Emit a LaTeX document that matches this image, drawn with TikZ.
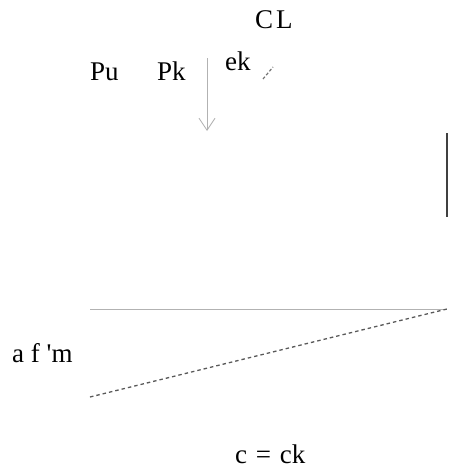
\documentclass[tikz,border=0pt]{standalone}
\usepackage{fontspec}
\setmainfont{Liberation Serif}
\usetikzlibrary{arrows.meta}
\tikzset{
  lbl/.style={anchor=base west, inner sep=0pt, font=\fontsize{27}{30}\selectfont, text=black},
  faint/.style={draw=black!30, line width=0.9pt},
  dotline/.style={draw=black!65, line width=1.3pt, dash pattern=on 3.5pt off 3pt},
  thick bar/.style={draw=black!75, line width=2.8pt},
}
\begin{document}
\begin{tikzpicture}[x=1pt,y=-1pt]
\useasboundingbox (0,0) rectangle (453,471);
% texts
\node[lbl] (cl) at (255,28) {C\kern3pt L};
\node[lbl] (pu) at (90,80) {Pu};
\node[lbl] (pk) at (157,80) {Pk};
\node[lbl] (ek) at (225,70) {ek};
\node[lbl] (afm) at (12,362) {a f \textquotesingle m};
\node[lbl] (cek) at (235,463) {c\kern2pt{} =\kern2pt{} ck};
% coordinates
\coordinate (arrTop) at (207,58);
\coordinate (arrBot) at (207,131);
\coordinate (slA) at (263,79);
\coordinate (slB) at (273,67);
\coordinate (barTop) at (447,133);
\coordinate (barBot) at (447,217);
\coordinate (hL) at (90,309);
\coordinate (hR) at (447,309);
\coordinate (dL) at (90,397);
% connectors
\draw[faint, -{Straight Barb[length=12pt,width=16pt,line width=0.9pt]}] (arrTop) -- (arrBot);
\draw[draw=black!55, line width=1.2pt, dash pattern=on 3pt off 2pt] (slA) -- (slB);
\draw[thick bar] (barTop) -- (barBot);
\draw[faint] (hL) -- (hR);
\draw[dotline] (dL) -- (hR);
\end{tikzpicture}
\end{document}
